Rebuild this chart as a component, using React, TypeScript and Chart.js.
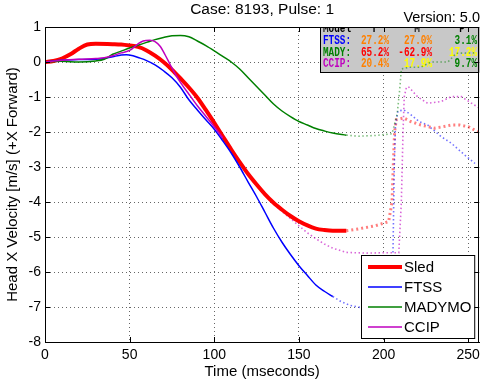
import React, { useEffect, useRef } from 'react';
import { Chart, registerables } from 'chart.js';

Chart.register(...registerables);

// ---------- data ----------
const sledT = [0, 5, 10, 15, 20, 25, 30, 40, 45, 50, 55, 60, 65, 70, 75, 80, 85, 90, 95, 100, 105, 110, 115, 120, 125, 130, 135, 140, 145, 150, 155, 160, 165, 170, 178];
const sledV = [0, 0.03, 0.1, 0.22, 0.38, 0.5, 0.52, 0.51, 0.5, 0.47, 0.43, 0.33, 0.18, 0, -0.22, -0.47, -0.73, -1.02, -1.37, -1.74, -2.12, -2.5, -2.86, -3.2, -3.5, -3.78, -4.02, -4.22, -4.4, -4.55, -4.67, -4.76, -4.8, -4.82, -4.82];
const sledDotT = [178, 185, 195, 203, 205, 205.7, 206.5, 207.5, 212, 216, 222, 230, 235, 240, 245, 250, 256];
const sledDotV = [-4.82, -4.77, -4.68, -4.56, -4.0, -3.0, -2.0, -1.65, -1.6, -1.7, -1.8, -1.89, -1.85, -1.8, -1.8, -1.85, -2.0];

const ftssT = [0, 5, 10, 20, 30, 35, 40, 45, 48, 52, 55, 60, 65, 70, 75, 80, 85, 90, 95, 100, 105, 110, 115, 120, 125, 130, 135, 140, 145, 150, 155, 160, 165, 170];
const ftssV = [0, 0.03, 0.05, 0.07, 0.08, 0.1, 0.15, 0.2, 0.21, 0.18, 0.13, 0.04, -0.08, -0.25, -0.45, -0.72, -1.08, -1.37, -1.65, -1.92, -2.25, -2.6, -3.0, -3.43, -3.85, -4.3, -4.75, -5.15, -5.5, -5.82, -6.1, -6.37, -6.55, -6.7];
const ftssDotT = [170, 175, 180, 185, 195, 205, 205.7, 206.3, 207, 208.5, 212, 216, 221, 226, 234, 240, 248, 254];
const ftssDotV = [-6.7, -6.85, -6.95, -7.0, -7.1, -7.1, -5.0, -3.0, -1.8, -1.4, -1.37, -1.5, -1.7, -1.8, -2.13, -2.32, -2.66, -2.9];

const madyT = [0, 10, 20, 30, 35, 40, 45, 50, 55, 60, 65, 70, 75, 80, 85, 90, 95, 100, 105, 110, 115, 120, 125, 130, 135, 140, 145, 150, 155, 160, 165, 170, 178];
const madyV = [0, 0.02, 0.0, 0.03, 0.08, 0.22, 0.31, 0.4, 0.48, 0.56, 0.64, 0.7, 0.75, 0.76, 0.72, 0.6, 0.47, 0.32, 0.16, 0.0, -0.2, -0.45, -0.7, -0.95, -1.2, -1.4, -1.56, -1.7, -1.8, -1.9, -1.97, -2.03, -2.09];
const madyDotT = [178, 185, 195, 205, 208, 209.5, 210.5, 215, 222, 228, 238, 243, 254];
const madyDotV = [-2.09, -2.12, -2.1, -2.05, -1.5, -0.8, -0.2, -0.15, -0.15, 0.0, 0.0, 0.25, 0.26];

const ccipT = [0, 10, 20, 30, 35, 40, 45, 50, 55, 58, 62, 65, 68, 71, 74, 77, 80, 85, 90, 95, 100, 105];
const ccipV = [0, 0.05, 0.08, 0.1, 0.12, 0.18, 0.26, 0.33, 0.52, 0.6, 0.62, 0.58, 0.45, 0.2, -0.08, -0.35, -0.58, -0.92, -1.25, -1.55, -1.85, -2.17];
const ccipDotT = [105, 110, 115, 120, 125, 130, 135, 140, 145, 150, 155, 160, 165, 170, 178, 190, 200, 209, 210.5, 211.5, 212.2, 213.5, 215, 220, 226, 234, 240, 246, 252, 256];
const ccipDotV = [-2.17, -2.5, -2.85, -3.2, -3.52, -3.8, -4.05, -4.27, -4.47, -4.68, -4.88, -5.05, -5.2, -5.32, -5.44, -5.46, -5.45, -5.45, -4.0, -2.0, -1.0, -0.72, -0.72, -0.99, -1.18, -1.13, -0.99, -0.99, -1.18, -1.3];

const xTicks = [0, 50, 100, 150, 200, 250];
const yTicks = [-8, -7, -6, -5, -4, -3, -2, -1, 0, 1];

const titleText = 'Case: 8193, Pulse: 1';
const versionText = 'Version: 5.0';
const xTitle = 'Time (mseconds)';
const yTitle = 'Head X Velocity [m/s] (+X Forward)';

const legendLabels = ['Sled', 'FTSS', 'MADYMO', 'CCIP'];
const seriesColors = ['#ff0000', '#0000ff', '#008000', '#bf00bf'];
const seriesDotColors = ['rgba(255,0,0,0.5)', 'rgba(0,0,255,0.55)', 'rgba(0,128,0,0.5)', 'rgba(191,0,191,0.6)'];
const seriesWidths = [4, 1.5, 1.5, 1.5];

const tableHeader = ['Model', 'T', 'M', 'P'];
const tableModels = ['FTSS:', 'MADY:', 'CCIP:'];
const tableModelColors = ['#0000ff', '#008000', '#bf00bf'];
const tableT = ['27.2%', '65.2%', '20.4%'];
const tableM = ['27.0%', '-62.9%', '17.9%'];
const tableP = ['3.1%', '17.2%', '9.7%'];
const tableTColors = ['#ff8000', '#ff0000', '#ff8000'];
const tableMColors = ['#ff8000', '#ff0000', '#ffff00'];
const tablePColors = ['#008000', '#ffff00', '#008000'];

const zip = (t: number[], v: number[]) => t.map((x, i) => ({ x, y: v[i] }));

const SANS = '"Liberation Sans", Arial, Helvetica, sans-serif';

const decor = {
  id: 'decor',
  beforeDatasetsDraw(chart: any) {
    const ctx = chart.ctx as CanvasRenderingContext2D;
    const a = chart.chartArea;
    // statistics table
    const bx = 320, by = a.top, bw = a.right - 320, bh = 72 - a.top;
    ctx.save();
    ctx.fillStyle = '#c8c8c8';
    ctx.fillRect(bx, by, bw, bh);
    ctx.beginPath();
    ctx.rect(bx, by, bw, bh);
    ctx.clip();
    ctx.font = 'bold 12px "Liberation Mono", "DejaVu Sans Mono", monospace';
    ctx.textBaseline = 'alphabetic';
    const txt = (s: string, x: number, y: number, align: CanvasTextAlign, color: string) => {
      ctx.save();
      ctx.fillStyle = color;
      ctx.textAlign = align;
      ctx.translate(x, y);
      ctx.scale(0.78, 1);
      ctx.fillText(s, 0, 0);
      ctx.restore();
    };
    txt(tableHeader[0], 323, 31.5, 'left', '#000');
    txt(tableHeader[1], 374, 31.5, 'center', '#000');
    txt(tableHeader[2], 417, 31.5, 'center', '#000');
    txt(tableHeader[3], 462, 31.5, 'center', '#000');
    const rows = [43.5, 55.5, 66.5];
    for (let i = 0; i < 3; i++) {
      txt(tableModels[i], 323, rows[i], 'left', tableModelColors[i]);
      txt(tableT[i], 389, rows[i], 'right', tableTColors[i]);
      txt(tableM[i], 432, rows[i], 'right', tableMColors[i]);
      txt(tableP[i], 477, rows[i], 'right', tablePColors[i]);
    }
    ctx.restore();
    ctx.save();
    ctx.strokeStyle = '#000';
    ctx.lineWidth = 1;
    ctx.strokeRect(bx + 0.5, by + 0.5, bw - 1, bh);
    ctx.restore();
  },
  afterDatasetsDraw(chart: any) {
    const ctx = chart.ctx as CanvasRenderingContext2D;
    const a = chart.chartArea;
    const xs = chart.scales.x;
    const ys = chart.scales.y;
    ctx.save();
    ctx.strokeStyle = '#000';
    ctx.lineWidth = 1;
    // tick marks inside
    ctx.beginPath();
    xTicks.forEach((v) => {
      const px = Math.round(xs.getPixelForValue(v)) + 0.5;
      ctx.moveTo(px, a.bottom);
      ctx.lineTo(px, a.bottom - 5);
      ctx.moveTo(px, a.top);
      ctx.lineTo(px, a.top + 5);
    });
    yTicks.forEach((v) => {
      const py = Math.round(ys.getPixelForValue(v)) + 0.5;
      ctx.moveTo(a.left, py);
      ctx.lineTo(a.left + 5, py);
      ctx.moveTo(a.right, py);
      ctx.lineTo(a.right - 5, py);
    });
    ctx.stroke();
    // box
    ctx.strokeRect(Math.round(a.left) + 0.5, Math.round(a.top) + 0.5, Math.round(a.right - a.left) - 1, Math.round(a.bottom - a.top));
    // legend
    const lx = 361, ly = 255, lw = a.right - 5 - 361, lh = 83;
    ctx.fillStyle = '#fff';
    ctx.fillRect(lx, ly, lw, lh);
    ctx.strokeRect(lx + 0.5, ly + 0.5, lw, lh);
    ctx.font = `15px ${SANS}`;
    ctx.textAlign = 'left';
    ctx.textBaseline = 'middle';
    const rowsY = [267, 287, 307, 327];
    legendLabels.forEach((lab, i) => {
      ctx.strokeStyle = seriesColors[i];
      ctx.lineWidth = seriesWidths[i];
      ctx.beginPath();
      ctx.moveTo(368, rowsY[i]);
      ctx.lineTo(402, rowsY[i]);
      ctx.stroke();
      ctx.fillStyle = '#000';
      ctx.fillText(lab, 404, rowsY[i] + 1);
    });
    ctx.restore();
  },
  afterDraw(chart: any) {
    const ctx = chart.ctx as CanvasRenderingContext2D;
    const a = chart.chartArea;
    ctx.save();
    ctx.fillStyle = '#000';
    ctx.font = `15.5px ${SANS}`;
    ctx.textAlign = 'center';
    ctx.textBaseline = 'middle';
    ctx.fillText(titleText, (a.left + a.right) / 2, 10);
    ctx.font = `14.5px ${SANS}`;
    ctx.textAlign = 'right';
    ctx.textBaseline = 'alphabetic';
    ctx.fillText(versionText, 480, 22);
    ctx.font = `15px ${SANS}`;
    ctx.textAlign = 'center';
    ctx.textBaseline = 'middle';
    ctx.fillText(xTitle, (a.left + a.right) / 2, 372);
    ctx.translate(13, (a.top + a.bottom) / 2);
    ctx.rotate(-Math.PI / 2);
    ctx.fillText(yTitle, 0, 0);
    ctx.restore();
  },
};

export default function App() {
  const ref = useRef<HTMLCanvasElement | null>(null);
  useEffect(() => {
    if (!ref.current) return;
    const solid = (i: number, t: number[], v: number[], order: number) => ({
      data: zip(t, v),
      borderColor: seriesColors[i],
      borderWidth: seriesWidths[i],
      pointRadius: 0,
      fill: false,
      cubicInterpolationMode: 'monotone',
      order,
    });
    const dotted = (i: number, t: number[], v: number[], order: number) => ({
      data: zip(t, v),
      borderColor: seriesDotColors[i],
      borderWidth: i === 0 ? 3 : 1.6,
      borderDash: i === 0 ? [2, 3] : [1.5, 2.5],
      pointRadius: 0,
      fill: false,
      tension: 0,
      order,
    });
    const chart = new Chart(ref.current, {
      type: 'line',
      data: {
        datasets: [
          solid(0, sledT, sledV, 4),
          solid(1, ftssT, ftssV, 3),
          solid(2, madyT, madyV, 2),
          solid(3, ccipT, ccipV, 1),
          dotted(0, sledDotT, sledDotV, 8),
          dotted(1, ftssDotT, ftssDotV, 7),
          dotted(2, madyDotT, madyDotV, 6),
          dotted(3, ccipDotT, ccipDotV, 5),
        ] as any,
      },
      options: {
        responsive: false,
        devicePixelRatio: 1,
        animation: false,
        layout: { padding: { top: 27, right: 4, left: 0, bottom: 0 } },
        plugins: { legend: { display: false }, title: { display: false }, tooltip: { enabled: false } },
        scales: {
          x: {
            type: 'linear',
            min: 0,
            max: 256.5,
            afterBuildTicks: (s: any) => { s.ticks = xTicks.map((v) => ({ value: v })); },
            afterFit: (s: any) => { s.height = 45; },
            grid: { color: '#666666', lineWidth: 1, drawTicks: false },
            border: { display: true, color: '#000', width: 1, dash: [1, 3] },
            ticks: { color: '#000', font: { family: SANS, size: 14 }, padding: 5, maxRotation: 0, autoSkip: false, callback: (v: any) => String(v) },
          },
          y: {
            type: 'linear',
            min: -8,
            max: 1,
            afterBuildTicks: (s: any) => { s.ticks = yTicks.map((v) => ({ value: v })); },
            afterFit: (s: any) => { s.width = 45; },
            grid: { color: '#666666', lineWidth: 1, drawTicks: false },
            border: { display: true, color: '#000', width: 1, dash: [1, 3] },
            ticks: { color: '#000', font: { family: SANS, size: 14 }, padding: 4, autoSkip: false, callback: (v: any) => String(v) },
          },
        },
      } as any,
      plugins: [decor],
    });
    return () => chart.destroy();
  }, []);
  return (
    <div style={{ position: 'absolute', left: 0, top: 0, width: 485, height: 387, background: '#fff' }}>
      <canvas ref={ref} width={485} height={387} style={{ display: 'block' }} />
    </div>
  );
}
